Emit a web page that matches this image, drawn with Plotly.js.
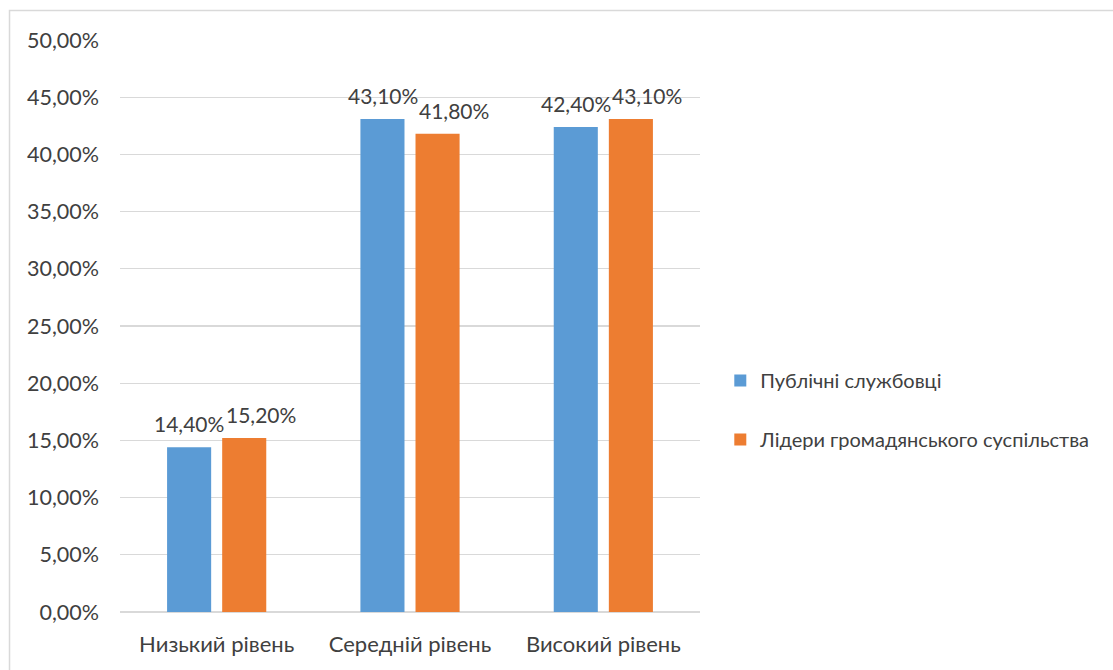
<!DOCTYPE html>
<html>
<head>
<meta charset="utf-8">
<script src="https://cdn.plot.ly/plotly-3.0.1.min.js"></script>
<style>
  html, body { margin: 0; padding: 0; background: #fff; }
  #chart { width: 1113px; height: 670px; }
</style>
</head>
<body>
<div id="chart"></div>
<script>
// Рівні та частки респондентів (у частках одиниці)
const categories = ['Низький рівень', 'Середній рівень', 'Високий рівень'];
const publicServants = [0.144, 0.431, 0.424];
const civilLeaders = [0.152, 0.418, 0.431];
const seriesNames = ['Публічні службовці', 'Лідери громадянського суспільства'];
const yTicks = [0, 0.05, 0.10, 0.15, 0.20, 0.25, 0.30, 0.35, 0.40, 0.45, 0.50];

const FONT = 'Lato, "Open Sans", sans-serif';
const TEXT_COLOR = '#404040';
const COLORS = ['#5B9BD5', '#ED7D31'];

function barTrace(values, name, color, group) {
  return {
    type: 'bar',
    x: categories,
    y: values,
    name: name,
    legendgroup: group,
    marker: { color: color },
    hoverinfo: 'skip'
  };
}

const data = [
  barTrace(publicServants, seriesNames[0], COLORS[0], 'a'),
  barTrace(civilLeaders, seriesNames[1], COLORS[1], 'b')
];

// Підписи значень над стовпчиками; другий ряд зсунуто праворуч, щоб підписи не злипались
function fmt(v) {
  return (v * 100).toFixed(2).replace('.', ',') + '%';
}
const labelShift = [-27.5, 44];
const annotations = [];
[publicServants, civilLeaders].forEach((values, s) => {
  values.forEach((v, i) => {
    annotations.push({
      x: categories[i], y: v,
      xref: 'x', yref: 'y',
      text: fmt(v),
      showarrow: false,
      xanchor: 'center', yanchor: 'bottom',
      xshift: labelShift[s],
      yshift: 9,
      font: { family: FONT, size: 21, color: TEXT_COLOR }
    });
  });
});

const layout = {
  width: 1113,
  height: 670,
  margin: { l: 120, r: 413, t: 40, b: 58 },
  paper_bgcolor: '#ffffff',
  plot_bgcolor: '#ffffff',
  separators: ',.',
  font: { family: FONT, size: 20, color: TEXT_COLOR },
  barmode: 'group',
  bargap: 0.43,
  bargroupgap: 0.2,
  showlegend: true,
  legend: {
    x: 1.035, xanchor: 'left',
    y: 0.353, yanchor: 'middle',
    font: { family: FONT, size: 20, color: TEXT_COLOR },
    traceorder: 'grouped',
    tracegroupgap: 30,
    itemwidth: 30,
    bgcolor: 'rgba(0,0,0,0)'
  },
  xaxis: {
    type: 'category',
    showgrid: false,
    showline: false,
    zeroline: false,
    ticks: '',
    tickfont: { family: FONT, size: 22, color: TEXT_COLOR },
    ticklabelstandoff: 17
  },
  yaxis: {
    range: [0, 0.5],
    tickvals: yTicks,
    tickformat: '.2%',
    showgrid: true,
    gridcolor: '#D9D9D9',
    gridwidth: 1.3,
    zeroline: true,
    zerolinecolor: '#D9D9D9',
    zerolinewidth: 1.3,
    showline: false,
    ticks: '',
    ticklabelstandoff: 20,
    tickfont: { family: FONT, size: 21.5, color: TEXT_COLOR }
  },
  annotations: annotations,
  shapes: [{
    type: 'rect',
    xref: 'paper', yref: 'paper',
    x0: -0.1905, x1: 1.8,
    y0: -0.2, y1: 1.0516,
    line: { color: '#D9D9D9', width: 1.5 },
    fillcolor: 'rgba(0,0,0,0)',
    layer: 'below'
  }]
};

Plotly.newPlot('chart', data, layout, { displayModeBar: false, staticPlot: true });
</script>
</body>
</html>
